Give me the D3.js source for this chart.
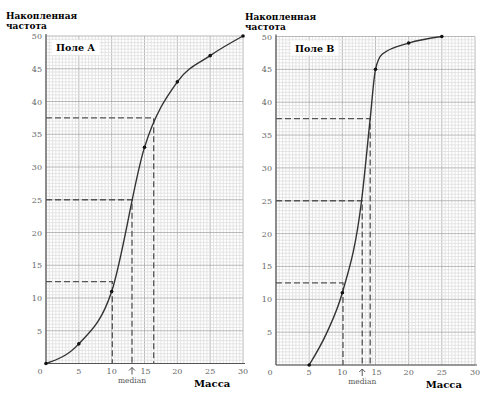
<!DOCTYPE html>
<html>
<head>
<meta charset="utf-8">
<script src="https://cdn.jsdelivr.net/npm/d3@7"></script>
<style>
  body { margin: 0; background: #fff; }
</style>
</head>
<body>
<div id="chart"></div>
<script>
const xTicks = [0, 5, 10, 15, 20, 25, 30];
const yTicks = [5, 10, 15, 20, 25, 30, 35, 40, 45, 50];

// Поле A: marked points (the curve goes through them)
const pointsA = [[0, 0], [5, 3], [10, 11], [15, 33], [20, 43], [25, 47], [30, 50]];
// [cumulative frequency, mass] where the dashed guides meet
const quartilesA = [[12.5, 10.1], [25, 13.1], [37.5, 16.4]];
const medianA = 13.1;

// Поле B: marked points, and the drawn curve
const dotsB = [[5, 0], [10, 11], [15, 45], [20, 49], [25, 50]];
const curveB = [[5, 0], [7.7, 5], [10, 11], [12.9, 25], [14.2, 37.5], [15, 45], [16, 47.3], [20, 49], [25, 50]];
const quartilesB = [[12.5, 10.1], [25, 13.0], [37.5, 14.2]];
const medianB = 13.0;

const W = 487, H = 396;
const serif = "'DejaVu Serif', serif";
const svg = d3.select("#chart").append("svg")
    .attr("width", W).attr("height", H)
    .style("font-family", serif);

const drawPanel = (opt) => {
    const x = d3.scaleLinear().domain([0, 30]).range([opt.left, opt.right]);
    const y = d3.scaleLinear().domain([0, 50]).range([opt.bottom, opt.top]);
    const g = svg.append("g");

    // fine grid
    const minorX = d3.range(0, 30.01, 0.5), minorY = d3.range(0, 50.01, 0.5);
    g.selectAll(".vx").data(minorX).enter().append("line")
        .attr("x1", d => x(d)).attr("x2", d => x(d))
        .attr("y1", y(0)).attr("y2", y(50))
        .attr("stroke", d => d % 5 === 0 ? "#a8a8a8" : "#dedede")
        .attr("stroke-width", 0.8);
    g.selectAll(".hy").data(minorY).enter().append("line")
        .attr("x1", x(0)).attr("x2", x(30))
        .attr("y1", d => y(d)).attr("y2", d => y(d))
        .attr("stroke", d => d % 5 === 0 ? "#a8a8a8" : "#dedede")
        .attr("stroke-width", 0.8);

    // axes
    g.append("line").attr("x1", x(0)).attr("x2", x(0)).attr("y1", y(0)).attr("y2", y(50) - 2)
        .attr("stroke", "#555").attr("stroke-width", 1.2);
    g.append("line").attr("x1", x(0)).attr("x2", x(30) + 2).attr("y1", y(0)).attr("y2", y(0))
        .attr("stroke", "#555").attr("stroke-width", 1.2);

    // tick labels
    g.selectAll(".yl").data(yTicks).enter().append("text")
        .attr("x", x(0) - 4).attr("y", d => y(d) + 3)
        .attr("text-anchor", "end").attr("font-size", 8).attr("fill", "#666")
        .text(d => d);
    g.selectAll(".xl").data(xTicks).enter().append("text")
        .attr("x", d => d === 0 ? x(0) - 6 : (d === 15 ? x(d) + 1 : x(d))).attr("y", y(0) + 10)
        .attr("text-anchor", "middle").attr("font-size", 8).attr("fill", "#666")
        .text(d => d);

    // dashed guides
    opt.quartiles.forEach(q => {
        g.append("path")
            .attr("d", d3.line()([[x(0), y(q[0])], [x(q[1]), y(q[0])], [x(q[1]), y(0)]]))
            .attr("fill", "none").attr("stroke", "#555").attr("stroke-width", 1.3)
            .attr("stroke-dasharray", "6,3");
    });

    // curve
    const line = d3.line().x(d => x(d[0])).y(d => y(d[1])).curve(d3.curveMonotoneX);
    g.append("path").datum(opt.curve).attr("d", line)
        .attr("fill", "none").attr("stroke", "#333").attr("stroke-width", 1.4);
    g.selectAll(".dot").data(opt.dots).enter().append("circle")
        .attr("cx", d => x(d[0])).attr("cy", d => y(d[1])).attr("r", 1.8)
        .attr("fill", "#111");

    // median arrow
    const mx = x(opt.median);
    g.append("path")
        .attr("d", `M${mx},${y(0) + 11} L${mx},${y(0) + 4} M${mx - 3},${y(0) + 7} L${mx},${y(0) + 4} L${mx + 3},${y(0) + 7}`)
        .attr("fill", "none").attr("stroke", "#444").attr("stroke-width", 0.9);
    g.append("text").attr("x", mx).attr("y", y(0) + 19)
        .attr("text-anchor", "middle").attr("font-size", 7.5).attr("fill", "#555")
        .text("median");

    // axis titles
    g.append("text").attr("x", x(25) + 2).attr("y", y(0) + 23)
        .attr("text-anchor", "middle").attr("font-size", 10).attr("font-weight", "bold")
        .text("Масса");
    g.append("text").attr("x", opt.titleX).attr("y", opt.titleY)
        .attr("font-size", 9).attr("font-weight", "bold").text("Накопленная");
    g.append("text").attr("x", opt.titleX).attr("y", opt.titleY + 10)
        .attr("font-size", 9).attr("font-weight", "bold").text("частота");

    // field label
    const lab = g.append("text").attr("x", opt.labelX).attr("y", y(50) + 15)
        .attr("font-size", 9.5).attr("font-weight", "bold").text(opt.name);
    const bb = lab.node().getBBox();
    g.insert("rect", () => lab.node())
        .attr("x", bb.x - 4).attr("y", bb.y - 2)
        .attr("width", bb.width + 8).attr("height", bb.height + 4)
        .attr("fill", "#fff");
};

drawPanel({
    left: 46, right: 243, top: 36, bottom: 363.5,
    curve: pointsA, dots: pointsA, quartiles: quartilesA, median: medianA,
    name: "Поле А", labelX: 56, titleX: 6, titleY: 19
});
drawPanel({
    left: 276, right: 475, top: 36.5, bottom: 365,
    curve: curveB, dots: dotsB, quartiles: quartilesB, median: medianB,
    name: "Поле В", labelX: 295, titleX: 245, titleY: 20
});
</script>
</body>
</html>
